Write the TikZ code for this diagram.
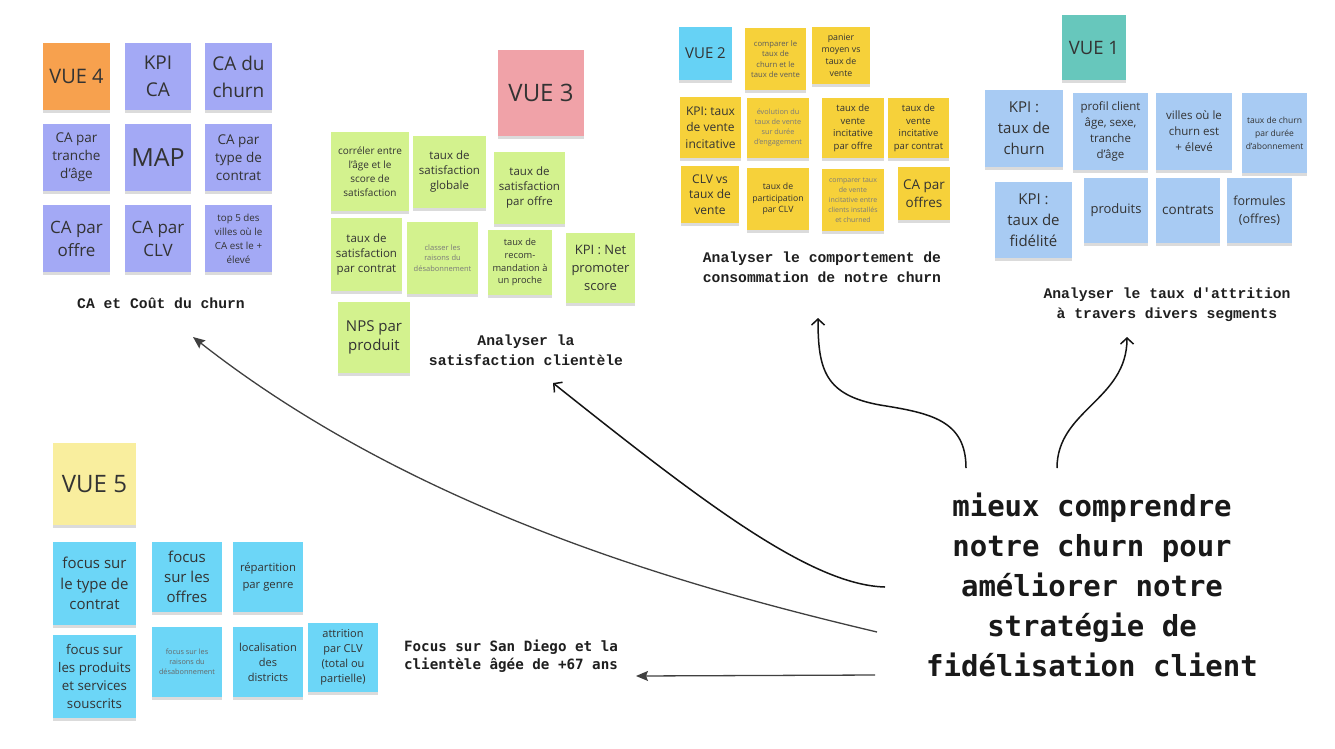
\documentclass[tikz,border=0pt]{standalone}
\usepackage{fontspec}
\setmainfont{Open Sans}
\newfontfamily\courfont{Liberation Mono}
\newfontfamily\plexfont{DejaVu Sans Mono}
\usetikzlibrary{arrows.meta,shadows}
\definecolor{ink}{HTML}{333333}
\definecolor{inklt}{HTML}{7A7A7A}
\definecolor{corange}{HTML}{F7A14E}
\definecolor{cpurple}{HTML}{A3A9F5}
\definecolor{cpink}{HTML}{F0A2A8}
\definecolor{cgreen}{HTML}{D3F28E}
\definecolor{ccyan}{HTML}{66D2F5}
\definecolor{cyellow}{HTML}{F6D13A}
\definecolor{cteal}{HTML}{67C7BC}
\definecolor{cblue}{HTML}{A8CBF3}
\definecolor{clyellow}{HTML}{F9EE9E}
\definecolor{ccyan2}{HTML}{6CD6F7}
\newcommand\fs[2]{\fontsize{#1}{#2}\selectfont}
\newcommand\stk[7]{\node[sticky,#6,minimum width={#4-#2},minimum height={#5-#3}] (#1) at ({(#2+#4)/2},{(#3+#5)/2}) {#7};}
\tikzset{
  sticky/.style={draw=none, inner sep=0pt, align=center, text=ink,
    drop shadow={shadow xshift=0pt, shadow yshift=-3pt, opacity=.14, fill=black}},
  lbl/.style={align=center, inner sep=0pt, text=black!88, font=\courfont\bfseries\fs{14.7}{20}},
  openarr/.style={-{Straight Barb[length=6pt,width=13pt]}, line width=1.5pt, draw=black!92},
  solidarr/.style={-{Stealth[length=12pt,width=10pt,inset=2pt]}, line width=1.3pt, draw=black!75},
}
\begin{document}
\begin{tikzpicture}[x=1pt,y=-1pt]
\useasboundingbox (0,0) rectangle (1335,748);
\fill[white] (0,0) rectangle (1335,748);

% ---------- VUE 4 ----------
\stk{v4}{43}{43}{110}{110}{fill=corange,font=\fs{20}{27}}{VUE 4}
\stk{kpica}{125}{43}{191}{110}{fill=cpurple,font=\fs{19}{27}}{KPI\\CA}
\stk{cadu}{205}{43}{272}{110}{fill=cpurple,font=\fs{19}{27}}{CA du\\churn}
\stk{catr}{43}{124}{110}{191}{fill=cpurple,font=\fs{13.5}{18}}{CA par\\tranche\\d'âge}
\stk{map}{125}{124}{191}{191}{fill=cpurple,font=\fs{25}{30}}{MAP}
\stk{cactr}{205}{124}{272}{191}{fill=cpurple,font=\fs{13.5}{18}}{CA par\\type de\\contrat}
\stk{caof}{43}{205}{110}{272}{fill=cpurple,font=\fs{17}{23}}{CA par\\offre}
\stk{caclv}{125}{205}{191}{272}{fill=cpurple,font=\fs{17}{23}}{CA par\\CLV}
\stk{top5}{205}{205}{272}{272}{fill=cpurple,font=\fs{9.8}{14}}{top 5 des\\villes où le\\CA est le +\\élevé}
\node[lbl] (lbl4) at (161,303) {CA et Coût du churn};

% ---------- VUE 3 ----------
\stk{v3}{498}{50}{584}{136}{fill=cpink,font=\fs{24}{30}}{VUE 3}
\stk{corr}{331}{132}{409}{211}{fill=cgreen,font=\fs{10}{14}}{corréler entre\\l'âge et le\\score de\\satisfaction}
\stk{glob}{413}{136}{486}{208}{fill=cgreen,font=\fs{11.5}{15}}{taux de\\satisfaction\\globale}
\stk{poff}{494}{152}{565}{224}{fill=cgreen,font=\fs{11.5}{15}}{taux de\\satisfaction\\par offre}
\stk{pctr}{331}{218}{402}{291}{fill=cgreen,font=\fs{11.5}{15}}{taux de\\satisfaction\\par contrat}
\stk{class}{407}{222}{478}{294}{fill=cgreen,text=inklt,font=\fs{7.5}{10.5}}{classer les\\raisons du\\désabonnement}
\stk{recom}{488}{230}{552}{295}{fill=cgreen,font=\fs{9.3}{12.7}}{taux de\\recom-\\mandation à\\un proche}
\stk{kpinps}{566}{233}{635}{303}{fill=cgreen,font=\fs{13}{18}}{KPI : Net\\promoter\\score}
\stk{npsp}{338}{302}{410}{373}{fill=cgreen,font=\fs{15}{19.5}}{NPS par\\produit}
\node[lbl] (lbl3) at (526,350) {Analyser la\\satisfaction clientèle};

% ---------- VUE 2 ----------
\stk{v2}{679}{27}{732}{80}{fill=ccyan,font=\fs{15}{20}}{VUE 2}
\stk{cmp}{745}{28}{806}{90}{fill=cyellow,text=ink!80,font=\fs{7.7}{10.5}}{comparer le\\taux de\\churn et le\\taux de vente}
\stk{pan}{812}{27}{870}{84}{fill=cyellow,font=\fs{8.8}{12}}{panier\\moyen vs\\taux de\\vente}
\stk{kpiv}{680}{97}{741}{158}{fill=cyellow,font=\fs{12}{16.5}}{KPI: taux\\de vente\\incitative}
\stk{evo}{747}{98}{809}{158}{fill=cyellow,text=ink!65,font=\fs{7.3}{10}}{évolution du\\taux de vente\\sur durée\\d'engagement}
\stk{tvo}{822}{98}{884}{158}{fill=cyellow,font=\fs{9.5}{12.8}}{taux de\\vente\\incitative\\par offre}
\stk{tvc}{888}{98}{949}{158}{fill=cyellow,font=\fs{9.5}{12.8}}{taux de\\vente\\incitative\\par contrat}
\stk{clv}{681}{166}{739}{223}{fill=cyellow,font=\fs{12}{15.7}}{CLV vs\\taux de\\vente}
\stk{part}{747}{168}{809}{230}{fill=cyellow,font=\fs{8.7}{11.7}}{taux de\\participation\\par CLV}
\stk{cmpv}{822}{169}{884}{231}{fill=cyellow,text=ink!65,font=\fs{7}{10}}{comparer taux\\de vente\\incitative entre\\clients installés\\et churned}
\stk{caofs}{898}{167}{950}{220}{fill=cyellow,font=\fs{13.5}{18}}{CA par\\offres}
\node[lbl] (lbl2) at (822,267) {Analyser le comportement de\\consommation de notre churn};

% ---------- VUE 1 ----------
\stk{v1}{1062}{15}{1126}{80}{fill=cteal,font=\fs{18.5}{24}}{VUE 1}
\stk{kpich}{985}{90}{1063}{167}{fill=cblue,font=\fs{15}{21}}{KPI :\\taux de\\churn}
\stk{prof}{1073}{93}{1148}{170}{fill=cblue,font=\fs{11.5}{16}}{profil client\\âge, sexe,\\tranche\\d'âge}
\stk{vil}{1156}{93}{1232}{170}{fill=cblue,font=\fs{11.5}{16}}{villes où le\\churn est\\+ élevé}
\stk{tdur}{1242}{93}{1307}{173}{fill=cblue,font=\fs{8.5}{13}}{taux de churn\\par durée\\d'abonnement}
\stk{kpifid}{995}{182}{1072}{258}{fill=cblue,font=\fs{15}{21}}{KPI :\\taux de\\fidélité}
\stk{prod}{1084}{178}{1148}{243}{fill=cblue,font=\fs{13}{18}}{produits}
\stk{ctr}{1156}{178}{1220}{243}{fill=cblue,font=\fs{13.5}{18}}{contrats}
\stk{form}{1227}{178}{1292}{243}{fill=cblue,font=\fs{12.5}{18}}{formules\\(offres)}
\node[lbl] (lbl1) at (1167,305) {Analyser le taux d'attrition\\à travers divers segments};

% ---------- VUE 5 ----------
\stk{v5}{53}{443}{136}{525}{fill=clyellow,font=\fs{24}{30}}{VUE 5}
\stk{ftc}{53}{542}{136}{625}{fill=ccyan2,font=\fs{15}{20.5}}{focus sur\\le type de\\contrat}
\stk{fps}{53}{635}{136}{718}{fill=ccyan2,font=\fs{13.3}{17.8}}{focus sur\\les produits\\et services\\souscrits}
\stk{fof}{152}{542}{222}{612}{fill=ccyan2,font=\fs{15}{19.7}}{focus\\sur les\\offres}
\stk{frd}{152}{627}{222}{697}{fill=ccyan2,text=ink!75,font=\fs{7.3}{10}}{focus sur les\\raisons du\\désabonnement}
\stk{rpg}{233}{542}{303}{612}{fill=ccyan2,font=\fs{11.3}{17}}{répartition\\par genre}
\stk{loc}{233}{627}{303}{697}{fill=ccyan2,font=\fs{11}{15}}{localisation\\des\\districts}
\stk{attr}{308}{623}{378}{692}{fill=ccyan2,font=\fs{11}{15}}{attrition\\par CLV\\(total ou\\partielle)}
\node[align=center, inner sep=0pt, text=black!88, font=\plexfont\bfseries\fs{14.2}{18}] (lblf) at (511,656) {Focus sur San Diego et la\\clientèle âgée de +67 ans};

% ---------- goal ----------
\node[align=center, inner sep=0pt, text=black!90, font=\plexfont\bfseries\fs{29}{40}] (goal) at (1092,585)
  {mieux comprendre\\notre churn pour\\améliorer notre\\stratégie de\\fidélisation client};

% ---------- connectors ----------
\coordinate (s3) at (885,587);
\coordinate (t3) at (553,383);
\coordinate (s4) at (877,632);
\coordinate (t4) at (193,337);
\coordinate (sf) at (875,675);
\coordinate (tf) at (636,676);
\coordinate (s2) at (966,468);
\coordinate (m2) at (880,405);
\coordinate (t2) at (818,318);
\coordinate (s1) at (1057,468);
\coordinate (t1) at (1127,337);

\draw[openarr] (s3) .. controls (810,585) and (700,500) .. (t3);
\draw[solidarr] (s4) .. controls (700,590) and (420,515) .. (t4);
\draw[solidarr] (sf) -- (tf);
\draw[openarr] (s2) .. controls (966,420) and (930,413) .. (m2) .. controls (825,395) and (818,370) .. (t2);
\draw[openarr] (s1) .. controls (1057,410) and (1127,400) .. (t1);
\end{tikzpicture}
\end{document}
